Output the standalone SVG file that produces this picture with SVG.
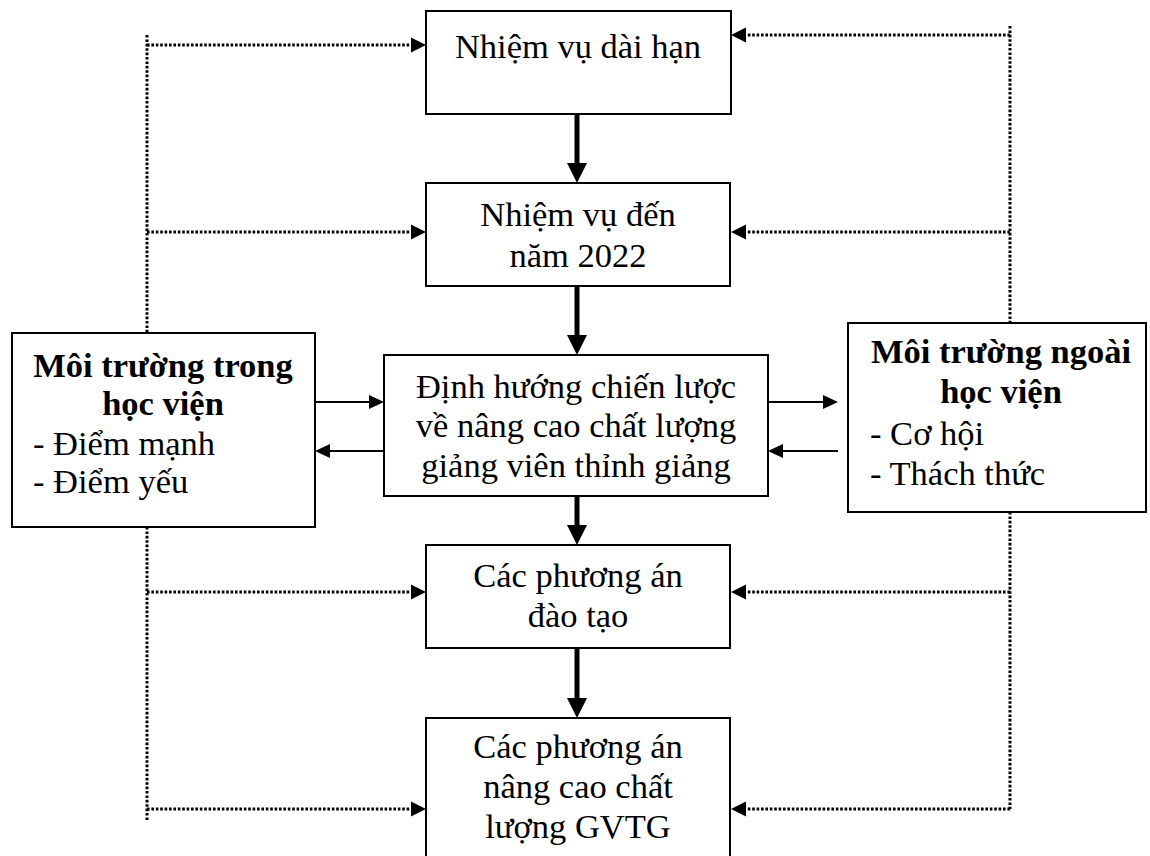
<svg xmlns="http://www.w3.org/2000/svg" width="1150" height="856" viewBox="0 0 1150 856">
<style>
.box{fill:#fff;stroke:#000;stroke-width:2}
.t{font-family:"Liberation Serif","Times New Roman",serif;font-size:34.5px;fill:#000}
.c{text-anchor:middle}
.b{font-weight:bold}
.dot{fill:none;stroke:#000;stroke-width:3;stroke-dasharray:2.6 1.8}
.thick{stroke:#000;stroke-width:5;fill:none}
.thin{stroke:#000;stroke-width:2;fill:none}
.head{fill:#000}
</style>
<rect width="1150" height="856" fill="#fff"/>
<g id="connectors">
<path class="dot" d="M147,35 V333 M147,527 V820"/>
<path class="dot" d="M147,45 H413 M147,232 H413 M147,592 H413 M147,809 H413"/>
<path class="dot" d="M1010,26 V323 M1010,512 V809"/>
<path class="dot" d="M1010,35 H744 M1010,232 H744 M1010,592 H744 M1010,809 H744"/>
<g class="head">
<polygon points="426,45 411,37.5 411,52.5"/>
<polygon points="426,232 411,224.5 411,239.5"/>
<polygon points="426,592 411,584.5 411,599.5"/>
<polygon points="426,809 411,801.5 411,816.5"/>
<polygon points="731,35 746,27.5 746,42.5"/>
<polygon points="731,232 746,224.5 746,239.5"/>
<polygon points="731,592 746,584.5 746,599.5"/>
<polygon points="731,809 746,801.5 746,816.5"/>
</g>
<path class="thick" d="M577,114 V165 M577,286 V337 M577,496 V527 M577,648 V700"/>
<g class="head">
<polygon points="577,183 567,163 587,163"/>
<polygon points="577,355 567,335 587,335"/>
<polygon points="577,545 567,525 587,525"/>
<polygon points="577,718 567,698 587,698"/>
</g>
<path class="thin" d="M315,402 H370 M383,451 H328 M768,402 H824 M838,451 H781"/>
<g class="head">
<polygon points="384,402 369,395 369,409"/>
<polygon points="315,451 330,444 330,458"/>
<polygon points="838,402 823,395 823,409"/>
<polygon points="768,451 783,444 783,458"/>
</g>
</g>
<g id="n1">
<rect class="box" x="426" y="11" width="305" height="103"/>
<text class="t c" x="578" y="58">Nhiệm vụ dài hạn</text>
</g>
<g id="n2">
<rect class="box" x="426" y="183" width="304" height="103"/>
<text class="t c" x="578" y="226">Nhiệm vụ đến</text>
<text class="t c" x="578" y="267">năm 2022</text>
</g>
<g id="n3">
<rect class="box" x="384" y="355" width="384" height="141"/>
<text class="t c" x="576" y="398">Định hướng chiến lược</text>
<text class="t c" x="576" y="437">về nâng cao chất lượng</text>
<text class="t c" x="576" y="477">giảng viên thỉnh giảng</text>
</g>
<g id="n4">
<rect class="box" x="426" y="545" width="304" height="103"/>
<text class="t c" x="578" y="587">Các phương án</text>
<text class="t c" x="578" y="627">đào tạo</text>
</g>
<g id="n5">
<rect class="box" x="426" y="718" width="304" height="150"/>
<text class="t c" x="578" y="758">Các phương án</text>
<text class="t c" x="578" y="798">nâng cao chất</text>
<text class="t c" x="578" y="838">lượng GVTG</text>
</g>
<g id="n6">
<rect class="box" x="12" y="333" width="303" height="194"/>
<text class="t c b" x="163" y="377">Môi trường trong</text>
<text class="t c b" x="163" y="415">học viện</text>
<text class="t" x="33" y="455">- Điểm mạnh</text>
<text class="t" x="33" y="493">- Điểm yếu</text>
</g>
<g id="n7">
<rect class="box" x="848" y="323" width="298" height="189"/>
<text class="t c b" x="1001" y="363">Môi trường ngoài</text>
<text class="t c b" x="1001" y="403">học viện</text>
<text class="t" x="870" y="445">- Cơ hội</text>
<text class="t" x="870" y="485">- Thách thức</text>
</g>
</svg>
